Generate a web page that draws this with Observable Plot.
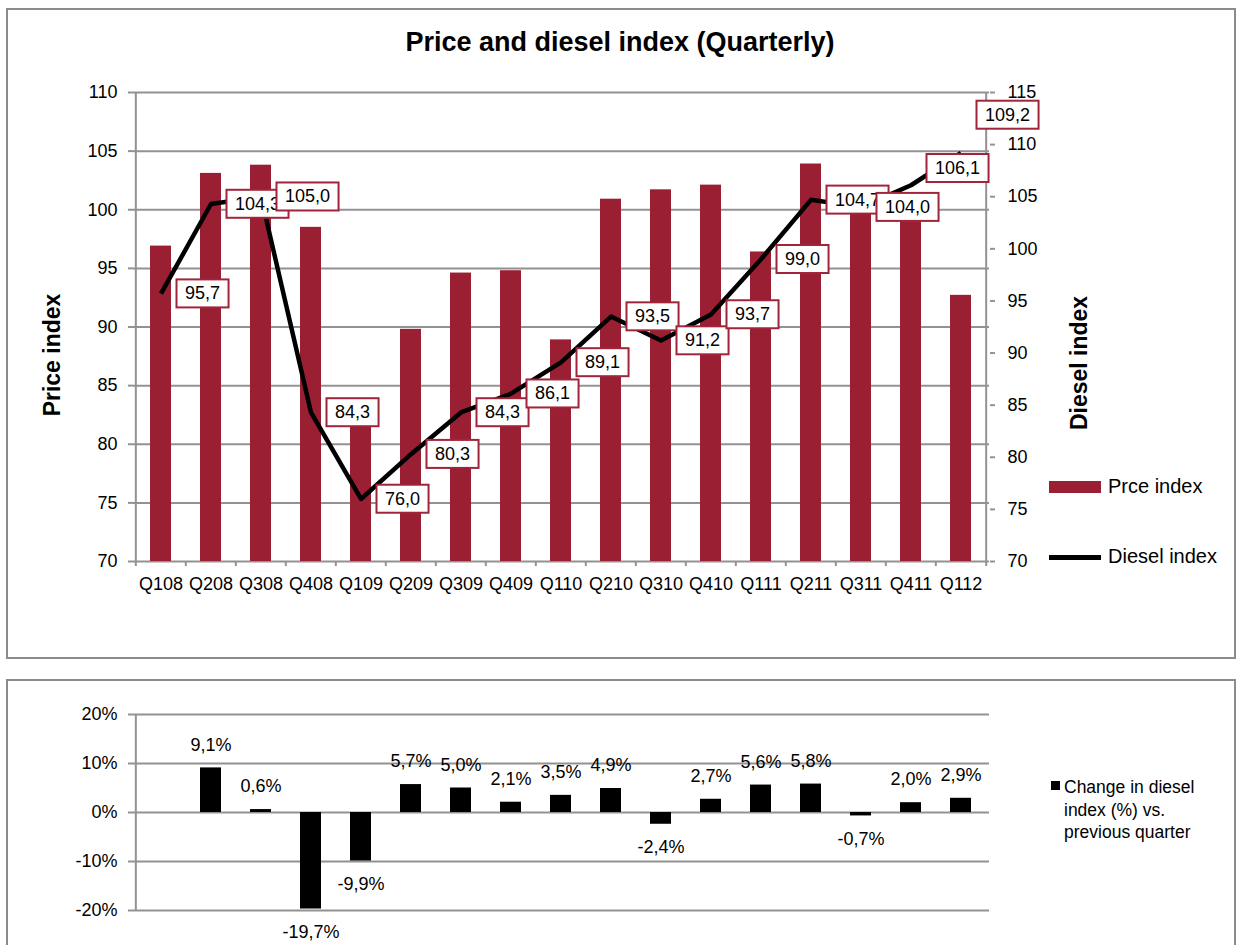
<!DOCTYPE html>
<html>
<head>
<meta charset="utf-8">
<script src="https://cdn.jsdelivr.net/npm/d3@7"></script>
<script src="https://cdn.jsdelivr.net/npm/@observablehq/plot@0.6"></script>
<style>
  html, body { margin: 0; padding: 0; background: #fff; }
  body { width: 1240px; height: 945px; position: relative; overflow: hidden;
         font-family: "Liberation Sans", Arial, sans-serif; color: #000; }
  .box { position: absolute; border: 2px solid #8c8c8c; box-sizing: border-box; z-index: 5; pointer-events: none; }
  .abs { position: absolute; white-space: nowrap; line-height: 1; }
  .plotwrap { position: absolute; left: 0; width: 1240px; }
</style>
</head>
<body>
<div class="box" style="left:6px;top:8px;width:1230px;height:651px"></div>
<div class="box" style="left:6px;top:679px;width:1230px;height:300px"></div>

<div class="abs" style="left:0;width:1240px;text-align:center;top:29px;font-size:27px;font-weight:bold">Price and diesel index (Quarterly)</div>

<div id="topChart" class="plotwrap" style="top:60px"></div>
<div id="bottomChart" class="plotwrap" style="top:690px"></div>

<!-- legend, top chart -->
<div style="position:absolute;left:1049px;top:481px;width:52px;height:12px;background:#9b1f33"></div>
<div class="abs" style="left:1108px;top:476px;font-size:20px">Prce index</div>
<div style="position:absolute;left:1049px;top:555px;width:52px;height:5px;background:#000"></div>
<div class="abs" style="left:1108px;top:546px;font-size:20px">Diesel index</div>

<!-- legend, bottom chart -->
<div style="position:absolute;left:1051px;top:781px;width:9px;height:9px;background:#000"></div>
<div style="position:absolute;left:1064px;top:776px;font-size:17.5px;line-height:22.5px;white-space:nowrap">Change in diesel<br>index (%) vs.<br>previous quarter</div>

<script>
// ---------- data ----------
const quarters = ["Q108","Q208","Q308","Q408","Q109","Q209","Q309","Q409","Q110","Q210","Q310","Q410","Q111","Q211","Q311","Q411","Q112"];
const priceIndex = [96.9, 103.1, 103.8, 98.5, 82.5, 89.8, 94.6, 94.8, 88.9, 100.9, 101.7, 102.1, 96.4, 103.9, 101.0, 100.0, 92.7];
const dieselIndex = [95.7, 104.3, 105.0, 84.3, 76.0, 80.3, 84.3, 86.1, 89.1, 93.5, 91.2, 93.7, 99.0, 104.7, 104.0, 106.1, 109.2];
const dieselChange = [null, 9.1, 0.6, -19.7, -9.9, 5.7, 5.0, 2.1, 3.5, 4.9, -2.4, 2.7, 5.6, 5.8, -0.7, 2.0, 2.9];
const priceTicks = [70, 75, 80, 85, 90, 95, 100, 105, 110];
const dieselTicks = [70, 75, 80, 85, 90, 95, 100, 105, 110, 115];
const changeTicks = [-20, -10, 0, 10, 20];

// ---------- styling ----------
const FONT = "'Liberation Sans', Arial, sans-serif";
const BAR = "#9b1f33";
const GRID = "#929292";
const LABEL_BORDER = "#a0243a";
const W = 1240, ML = 133, MR = 251;
const step = (W - ML - MR) / quarters.length;

// secondary (diesel) axis mapped onto the price scale: 70..115 -> 70..110
const PMIN = 70, PMAX = 110, DMIN = 70, DMAX = 115;
const toP = d => PMIN + (d - DMIN) * (PMAX - PMIN) / (DMAX - DMIN);
const fromP = p => DMIN + (p - PMIN) * (DMAX - DMIN) / (PMAX - PMIN);
const comma = v => v.toFixed(1).replace(".", ",");

const rows = quarters.map((q, i) => ({q, price: priceIndex[i], diesel: dieselIndex[i]}));
const chgRows = quarters.map((q, i) => ({q, chg: dieselChange[i]})).filter(d => d.chg != null);
const nudge = {Q411: -17, Q112: -38};

// ---------- top chart ----------
const H1 = 560, MT1 = 32, MB1 = 59;
const frameH1 = H1 - MT1 - MB1;
const labelOpts = {x: "q", y: d => toP(d.diesel), text: d => comma(d.diesel), textAnchor: "start", dx: 24, fontSize: 18, fill: "#000"};

const topSvg = Plot.plot({
  width: W, height: H1,
  marginTop: MT1, marginBottom: MB1, marginLeft: ML, marginRight: MR,
  style: {fontFamily: FONT, fontSize: "18px", color: "#000", background: "transparent", overflow: "visible"},
  x: {domain: quarters, paddingInner: 0.58, paddingOuter: 0.29, axis: null},
  y: {domain: [PMIN, PMAX], axis: null},
  marks: [
    Plot.ruleY(priceTicks, {stroke: GRID, strokeWidth: 2}),
    // axis lines + x tick marks at category boundaries
    Plot.ruleX([quarters[0]], {dx: -step / 2, stroke: GRID, strokeWidth: 2, insetBottom: -5}),
    Plot.ruleX([quarters[quarters.length - 1]], {dx: step / 2, stroke: GRID, strokeWidth: 2, insetBottom: -5}),
    Plot.ruleX(quarters.slice(1), {dx: -step / 2, stroke: GRID, strokeWidth: 2, insetTop: frameH1, insetBottom: -5}),
    Plot.axisY({anchor: "left", ticks: priceTicks, tickFormat: d => String(d), tickSize: 5, tickPadding: 11,
                stroke: GRID, strokeWidth: 2, fill: "#000", fontSize: 18, label: null}),
    Plot.axisY({anchor: "right", ticks: dieselTicks.map(toP), tickFormat: p => String(Math.round(fromP(p))),
                tickSize: 5, tickPadding: 13, stroke: GRID, strokeWidth: 2, fill: "#000", fontSize: 18, label: null}),
    Plot.axisX({anchor: "bottom", tickSize: 0, tickPadding: 16, fill: "#000", fontSize: 18, label: null}),
    Plot.barY(rows, {x: "q", y1: PMIN, y2: "price", fill: BAR}),
    Plot.line(rows, {x: "q", y: d => toP(d.diesel), stroke: "#000", strokeWidth: 4.5, strokeLinejoin: "round", strokeLinecap: "butt"}),
    Plot.text(rows.filter(d => !(d.q in nudge)), labelOpts),
    Plot.text(rows.filter(d => d.q === "Q411"), {...labelOpts, dy: nudge.Q411}),
    Plot.text(rows.filter(d => d.q === "Q112"), {...labelOpts, dy: nudge.Q112}),
    Plot.text(["Price index"], {frameAnchor: "left", textAnchor: "middle", lineAnchor: "middle", text: d => d, rotate: -90,
                                dx: -81, dy: 28, fontSize: 23, fontWeight: "bold", fill: "#000"}),
    Plot.text(["Diesel index"], {frameAnchor: "right", textAnchor: "middle", lineAnchor: "middle", text: d => d, rotate: -90,
                                 dx: 90, dy: 36, fontSize: 23, fontWeight: "bold", fill: "#000"})
  ]
});
document.getElementById("topChart").appendChild(topSvg);

// white boxes with a dark red border behind the diesel data labels
function boxLabels(svg) {
  const ns = "http://www.w3.org/2000/svg";
  svg.querySelectorAll("text").forEach(t => {
    if (!/^\d+,\d$/.test(t.textContent.trim())) return;
    const b = t.getBBox();
    const r = document.createElementNS(ns, "rect");
    r.setAttribute("x", b.x - 8.5);
    r.setAttribute("y", b.y - 4);
    r.setAttribute("width", b.width + 17);
    r.setAttribute("height", b.height + 8);
    const tr = t.getAttribute("transform");
    if (tr) r.setAttribute("transform", tr);
    r.setAttribute("fill", "#fff");
    r.setAttribute("stroke", LABEL_BORDER);
    r.setAttribute("stroke-width", 2);
    t.parentNode.insertBefore(r, t);
  });
}
boxLabels(topSvg);

// ---------- bottom chart ----------
const chgText = {x: "q", y: "chg", text: d => comma(d.chg) + "%", fontSize: 18, fill: "#000"};
const bottomSvg = Plot.plot({
  width: W, height: 255,
  marginTop: 24, marginBottom: 35, marginLeft: ML, marginRight: MR,
  style: {fontFamily: FONT, fontSize: "18px", color: "#000", background: "transparent", overflow: "visible"},
  x: {domain: quarters, paddingInner: 0.58, paddingOuter: 0.29, axis: null},
  y: {domain: [-20, 20], axis: null},
  marks: [
    Plot.ruleY(changeTicks, {stroke: GRID, strokeWidth: 2}),
    Plot.ruleX([quarters[0]], {dx: -step / 2, stroke: GRID, strokeWidth: 2}),
    Plot.axisY({anchor: "left", ticks: changeTicks, tickFormat: d => d + "%", tickSize: 5, tickPadding: 11,
                stroke: GRID, strokeWidth: 2, fill: "#000", fontSize: 18, label: null}),
    Plot.barY(chgRows, {x: "q", y: "chg", fill: "#000"}),
    Plot.text(chgRows.filter(d => d.chg >= 0), {...chgText, dy: -23}),
    Plot.text(chgRows.filter(d => d.chg < 0), {...chgText, dy: 23})
  ]
});
document.getElementById("bottomChart").appendChild(bottomSvg);
</script>
</body>
</html>
